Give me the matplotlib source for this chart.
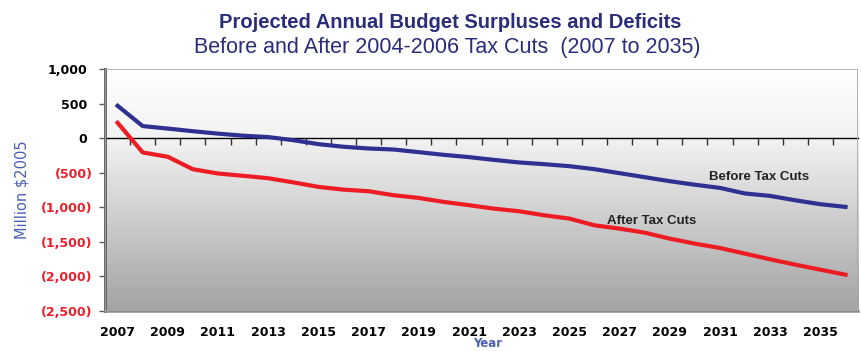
import numpy as np
import matplotlib
matplotlib.use('Agg')
import matplotlib.pyplot as plt
from matplotlib.ticker import FixedLocator
from matplotlib.transforms import ScaledTranslation
from matplotlib.patches import Rectangle

# projected budget surplus / deficit, million $2005
years = np.arange(2007, 2037)
before_cuts = [468, 174, 138, 100, 65, 35, 15, -30, -87, -125, -150, -165, -203, -242,
               -275, -315, -352, -377, -406, -449, -507, -565, -623, -674, -720, -801,
               -836, -899, -956, -995]
after_cuts = [222, -207, -270, -450, -512, -545, -580, -640, -705, -745, -768, -826, -865,
              -923, -970, -1020, -1058, -1116, -1164, -1261, -1309, -1367, -1454, -1526,
              -1589, -1671, -1753, -1830, -1903, -1975]
year_labels = [str(y) for y in range(2007, 2036, 2)]
y_ticks = [1000, 500, 0, -500, -1000, -1500, -2000, -2500]

navy = '#2e3192'
red = '#ed1c24'
neg_red = '#e8202a'

fig = plt.figure(figsize=(8.61, 3.51), dpi=100)
ax = fig.add_axes([0.122, 0.114, 0.8746, 0.6895])

# gradient background: white at top, grey at the bottom
shade = np.interp(np.linspace(0, 1, 256), [0, 0.29, 1], [1.0, 0.95, 0.64])
ax.imshow(np.repeat(shade[:, None], 2, axis=1)[:, :, None].repeat(3, axis=2),
          extent=[0, 1, 0, 1], transform=ax.transAxes, aspect='auto', zorder=0)

ax.plot(years, before_cuts, color=navy, lw=3, solid_joinstyle='round', zorder=3)
ax.plot(years, after_cuts, color=red, lw=3, solid_joinstyle='round', zorder=3)

ax.set_xlim(2006.5, 2036.5)
ax.set_ylim(-2500, 1000)

# frame
ax.add_patch(Rectangle((0, 0), 1, 1, transform=ax.transAxes, fill=False,
                       edgecolor='#a8a8a8', lw=1.2, zorder=4))
ax.spines['right'].set_visible(False)
ax.spines['left'].set_color('#5a5a5a')
ax.spines['left'].set_linewidth(2)
ax.spines['bottom'].set_color('#8c8c8c')
ax.spines['bottom'].set_linewidth(1.8)
ax.spines['top'].set_position(('data', 0))
ax.spines['top'].set_color('black')
ax.spines['top'].set_linewidth(1)
ax.spines['top'].set_zorder(2)

# x axis: labels at bottom, tick marks on the zero line between categories
ax.set_xticks(range(2007, 2036, 2))
ax.set_xticklabels(year_labels, fontsize=9, fontweight='bold')
ax.xaxis.set_minor_locator(FixedLocator(years[:-1] + 0.5))
ax.tick_params(axis='x', which='major', length=0, pad=11, bottom=True, top=False)
ax.tick_params(axis='x', which='minor', bottom=False, top=True, direction='in',
               length=5, width=1, color='#333333')

# y axis
ax.set_yticks(y_ticks)
labels = []
for v in y_ticks:
    labels.append('{:,}'.format(v) if v >= 0 else '({:,})'.format(-v))
ax.set_yticklabels(labels, fontsize=9, fontweight='bold')
ax.tick_params(axis='y', length=4, width=1, color='#5a5a5a', pad=5)
for v, lab in zip(y_ticks, ax.get_yticklabels()):
    if v < 0:
        lab.set_color(neg_red)
    else:
        lab.set_transform(lab.get_transform() + ScaledTranslation(-5 / 100, 0, fig.dpi_scale_trans))

ax.text(2030.56, -565, 'Before Tax Cuts', fontsize=9.5, color='#222222', va='center',
        family='Liberation Sans', fontweight='bold', zorder=5)
ax.text(2026.5, -1198, 'After Tax Cuts', fontsize=9.5, color='#222222', va='center',
        family='Liberation Sans', fontweight='bold', zorder=5)

fig.text(0.0256, 0.459, 'Million $2005', rotation=90, ha='center', va='center',
         fontsize=10.5, color='#4a5fb5')
fig.text(0.566, 0.004, 'Year', ha='center', va='bottom', fontsize=8.5,
         fontweight='bold', color='#4a5fb5')

fig.text(0.523, 1 - 22 / 351, 'Projected Annual Budget Surpluses and Deficits',
         ha='center', va='center', fontsize=14.5, fontweight='bold', color='#2b2d7a',
         family='Liberation Sans')
fig.text(0.519, 1 - 47 / 351, 'Before and After 2004-2006 Tax Cuts  (2007 to 2035)',
         ha='center', va='center', fontsize=15.5, color='#2b2d7a',
         family='Liberation Sans')

fig.savefig('out.png', dpi=100)
